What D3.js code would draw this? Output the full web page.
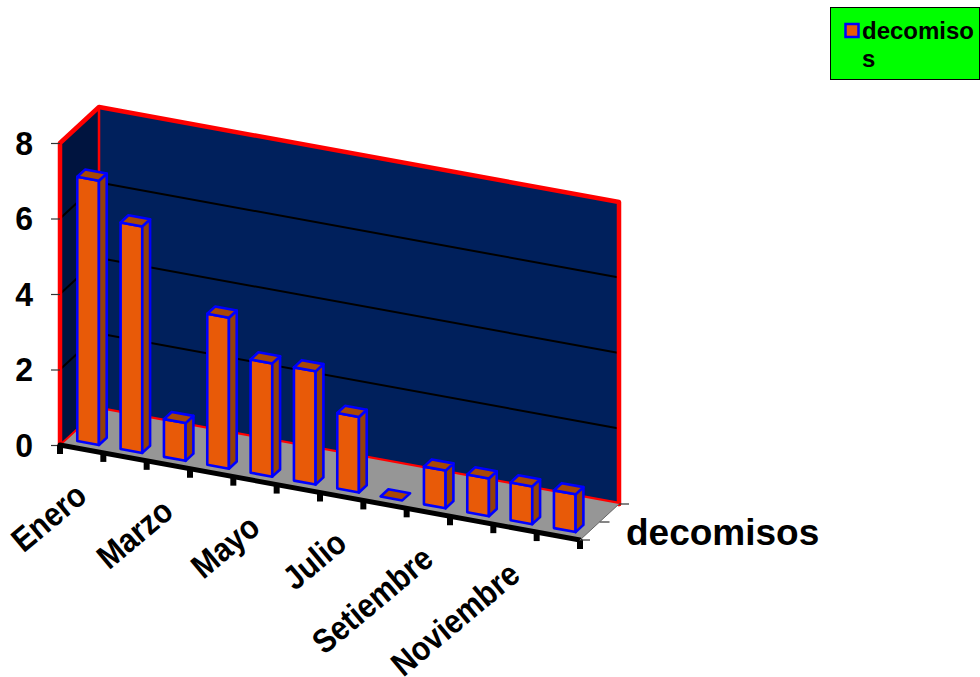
<!DOCTYPE html>
<html><head><meta charset="utf-8">
<script src="https://cdnjs.cloudflare.com/ajax/libs/d3/7.8.5/d3.min.js"></script>
<style>html,body{margin:0;padding:0;background:#fff}svg{display:block}text{font-family:"Liberation Sans",Arial,sans-serif;font-weight:bold;fill:#000}</style>
</head><body><svg id="c" width="980" height="677"></svg>
<script>
const categories=["Enero","Febrero","Marzo","Abril","Mayo","Junio","Julio","Agosto","Setiembre","Octubre","Noviembre","Diciembre"];
const values=[7,6,1,4,3,3,2,0,1,1,1,1];
const valueTicks=[0,2,4,6,8];
const gridValues=[2,4,6];
const seriesName="decomisos";
const legendLines=["decomiso","s"];

const svg=d3.select("#c");
// oblique 3D projection built from three linear scales
const sx=d3.scaleLinear().domain([0,12]).range([0,520]);
const sxy=d3.scaleLinear().domain([0,12]).range([0,95]);
const sv=d3.scaleLinear().domain([0,8]).range([445,143]);
const dx=d3.scaleLinear().domain([0,1]).range([0,39]);
const dy=d3.scaleLinear().domain([0,1]).range([0,-36]);
const P=(i,v,d)=>[60+sx(i)+dx(d),sv(v)+sxy(i)+dy(d)];
const line=d3.line();
const poly=(pts,fill,stroke,w)=>svg.append("path").attr("d",line(pts)+"Z").attr("fill",fill).attr("stroke",stroke||"none").attr("stroke-width",w||0).attr("stroke-linejoin","round");
const seg=(pts,stroke,w)=>svg.append("path").attr("d",line(pts)).attr("fill","none").attr("stroke",stroke).attr("stroke-width",w).attr("stroke-linejoin","round").attr("stroke-linecap","round");

// walls
poly([P(0,0,1),P(12,0,1),P(12,8,1),P(0,8,1)],"#00205c");
poly([P(0,0,0),P(0,0,1),P(0,8,1),P(0,8,0)],"#00143f");
// gridlines
gridValues.forEach(v=>{seg([P(0,v,0),P(0,v,1),P(12,v,1)],"#000",2);});
// wall borders
seg([P(0,0,0),P(0,8,0),P(0,8,1),P(12,8,1),P(12,0,1)],"#ff0000",4.5);
seg([P(0,8,1),P(0,0,1)],"#ff0000",2.5);
seg([P(0,0,1),P(12,0,1)],"#ff0000",4.5);
// floor
poly([P(0,0,0),P(12,0,0),P(12,0,1),P(0,0,1)],"#969696");
seg([P(0,0,0),P(0,0,1)],"#ff0000",2);

// value axis
const yAxis=d3.axisLeft(sv).tickValues(valueTicks).tickSize(9).tickPadding(11).tickFormat(d3.format("d"));
const gy=svg.append("g").attr("transform","translate(60,0)").call(yAxis);
gy.select(".domain").remove();
gy.selectAll("line").attr("stroke","#333").attr("stroke-width",1.2);
gy.selectAll("text").attr("x",null).attr("dy",null).attr("text-anchor","end")
  .attr("transform","translate(-27,11) scale(1,1.06)").style("font-size","32px");

// bars
const bw=0.5,d0=0.165,d1=0.365;
values.forEach((val,k)=>{
  const a=k+0.25,b=a+bw;
  const st="#0000ff",w=2.6;
  if(val>0){
    poly([P(a,0,d0),P(b,0,d0),P(b,val,d0),P(a,val,d0)],"#e85a08",st,w);
    poly([P(b,0,d0),P(b,0,d1),P(b,val,d1),P(b,val,d0)],"#93400a",st,w);
  }
  poly([P(a,val,d0),P(b,val,d0),P(b,val,d1),P(a,val,d1)],"#a84706",st,w);
});

// front edge and category ticks
seg([P(0,0,0),P(12,0,0)],"#000",5);
d3.range(0,13).forEach(i=>{
  const p=P(i,0,0);
  svg.append("line").attr("x1",p[0]).attr("x2",p[0]).attr("y1",p[1]).attr("y2",p[1]+9).attr("stroke","#000").attr("stroke-width",6);
});
// depth axis ticks
[0,0.5,1].forEach(d=>{
  const p=P(12,0,d);
  svg.append("line").attr("x1",p[0]).attr("x2",p[0]+10).attr("y1",p[1]).attr("y2",p[1]).attr("stroke","#333").attr("stroke-width",1.2);
});
seg([P(12,0,0),P(12,0,1)],"#666",1);

// category labels (every second one is shown)
categories.forEach((c,k)=>{
  if(k%2) return;
  const p=P(k+0.5,0,0);
  svg.append("text").attr("text-anchor","end").attr("transform",`translate(${p[0]+7},${p[1]+50}) rotate(-40) scale(1,1.12)`).style("font-size","30px").text(c);
});
// depth label
svg.append("text").attr("x",626).attr("y",545).style("font-size","37px").text(seriesName);

// legend
svg.append("rect").attr("x",830.5).attr("y",7.5).attr("width",149).attr("height",72).attr("fill","#00ff00").attr("stroke","#000").attr("stroke-width",1);
svg.append("rect").attr("x",845.5).attr("y",24).attr("width",13).attr("height",13).attr("fill","#e85a08").attr("stroke","#0000ff").attr("stroke-width",2.5);
legendLines.forEach((t,i)=>svg.append("text").attr("x",862).attr("y",39+i*28).style("font-size","24px").text(t));
</script></body></html>
